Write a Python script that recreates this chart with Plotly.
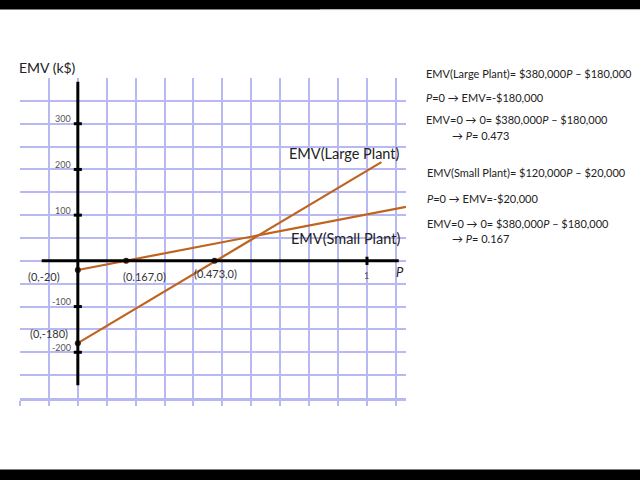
import plotly.graph_objects as go

# ---- data ----
large_p = [0, 1.05]
large_emv = [-180, 216]
small_p = [0, 1.135]
small_emv = [-20, 118]
point_p = [0, 0.167, 0.473, 0]
point_emv = [-20, 0, 0, -180]
point_labels = ["(0,-20)", "(0.167,0)", "(0.473,0)", "(0,-180)"]
y_ticks = [300, 200, 100, -100, -200]
x_ticks = [1]

LINE = "#C0631F"
GRID = "#B8B8F2"
FONT = "Lato"

W, H = 640, 480
def px(x):
    return x / W
def py(y):
    return 1 - y / H

fig = go.Figure()
fig.add_trace(go.Scatter(x=large_p, y=large_emv, mode="lines",
                         line=dict(color=LINE, width=2.2), hoverinfo="skip"))
fig.add_trace(go.Scatter(x=small_p, y=small_emv, mode="lines",
                         line=dict(color=LINE, width=2.2), hoverinfo="skip"))

shapes = []
# axes (black)
shapes.append(dict(type="line", xref="x", yref="y", x0=0, x1=0, y0=-272, y1=392,
                   line=dict(color="black", width=3)))
shapes.append(dict(type="line", xref="x", yref="y", x0=-0.125, x1=1.11, y0=0, y1=0,
                   line=dict(color="black", width=3)))
for t in y_ticks:
    shapes.append(dict(type="line", xref="x", yref="y", x0=-0.014, x1=0.014, y0=t, y1=t,
                       line=dict(color="black", width=3)))
for t in x_ticks:
    shapes.append(dict(type="line", xref="x", yref="y", x0=t, x1=t, y0=-9, y1=9,
                       line=dict(color="black", width=3)))
# black bars top / bottom
shapes.append(dict(type="rect", xref="paper", yref="paper", x0=0, x1=1, y0=py(9.5), y1=1,
                   fillcolor="#000000", line=dict(width=0), layer="below"))
shapes.append(dict(type="rect", xref="paper", yref="paper", x0=0.5, x1=1, y0=py(10.5), y1=py(9.5),
                   fillcolor="#EEEEFB", line=dict(width=0), layer="below"))
shapes.append(dict(type="rect", xref="paper", yref="paper", x0=0, x1=1, y0=0, y1=py(469.5),
                   fillcolor="black", line=dict(width=0), layer="above"))

fig.add_trace(go.Scatter(x=point_p, y=point_emv, mode="markers",
                         marker=dict(color="#3a2414", size=6), hoverinfo="skip"))

ann = []
# point labels
lab_pos = [(44, 276), (144, 276), (215, 273), (49, 333)]
for (lx, ly), txt in zip(lab_pos, point_labels):
    ann.append(dict(x=px(lx), y=py(ly), xref="paper", yref="paper", text=txt,
                    showarrow=False, xanchor="center", yanchor="middle",
                    font=dict(family=FONT, size=11, color="#333333")))
# y tick labels
for t in y_ticks:
    ann.append(dict(x=-0.016, y=t, xref="x", yref="y", text=str(t), showarrow=False,
                    xanchor="right", yanchor="middle", yshift=5,
                    font=dict(family=FONT, size=9, color="#555555")))
for t in x_ticks:
    ann.append(dict(x=t, y=0, xref="x", yref="y", text=str(t), showarrow=False,
                    xanchor="center", yanchor="middle", yshift=-15,
                    font=dict(family=FONT, size=9, color="#555555")))
ann.append(dict(x=px(400), y=py(272), xref="paper", yref="paper", text="<i>P</i>",
                showarrow=False, xanchor="center", yanchor="middle",
                font=dict(family=FONT, size=13, color="#222222")))
ann.append(dict(x=px(17), y=py(68), xref="paper", yref="paper", text="EMV (k$)",
                showarrow=False, xanchor="left", yanchor="middle",
                font=dict(family=FONT, size=14, color="#222222")))
ann.append(dict(x=px(402), y=py(153), xref="paper", yref="paper", text="EMV(Large Plant)",
                showarrow=False, xanchor="right", yanchor="middle",
                font=dict(family=FONT, size=14.5, color="#222222")))
ann.append(dict(x=px(402), y=py(238), xref="paper", yref="paper", text="EMV(Small Plant)",
                showarrow=False, xanchor="right", yanchor="middle",
                font=dict(family=FONT, size=14.5, color="#222222")))

right_lines = [
    (424, 73, "EMV(Large Plant)= $380,000<i>P</i> – $180,000"),
    (424, 97, "<i>P</i>=0 → EMV=-$180,000"),
    (424, 119, "EMV=0 → 0= $380,000<i>P</i> – $180,000"),
    (450, 135, "→ <i>P</i>= 0.473"),
    (425, 172, "EMV(Small Plant)= $120,000<i>P</i> – $20,000"),
    (425, 198, "<i>P</i>=0 → EMV=-$20,000"),
    (425, 223, "EMV=0 → 0= $380,000<i>P</i> – $180,000"),
    (450, 238, "→ <i>P</i>= 0.167"),
]
for lx, ly, txt in right_lines:
    ann.append(dict(x=px(lx), y=py(ly), xref="paper", yref="paper", text=txt,
                    showarrow=False, xanchor="left", yanchor="middle",
                    font=dict(family=FONT, size=11, color="#222222")))

fig.update_layout(
    width=W, height=H, autosize=False,
    margin=dict(l=0, r=0, t=0, b=0),
    paper_bgcolor="white", plot_bgcolor="white",
    showlegend=False,
    shapes=shapes, annotations=ann,
    xaxis=dict(domain=[px(20), px(406)], range=[-0.2, 1.135], tick0=0, dtick=0.1,
               showgrid=True, gridcolor=GRID, gridwidth=1.5, zeroline=False,
               showticklabels=False, ticks="outside", ticklen=5, tickcolor=GRID,
               tickwidth=1.5, showline=True, linecolor=GRID, linewidth=2.5,
               fixedrange=True),
    yaxis=dict(domain=[py(398), py(78)], range=[-300, 400], tick0=0, dtick=50,
               showgrid=True, gridcolor=GRID, gridwidth=1.5, zeroline=False,
               showticklabels=False, ticks="", fixedrange=True),
)

fig.write_html("out.html", config={"displayModeBar": False},
               post_script="document.body.style.margin='0';")
